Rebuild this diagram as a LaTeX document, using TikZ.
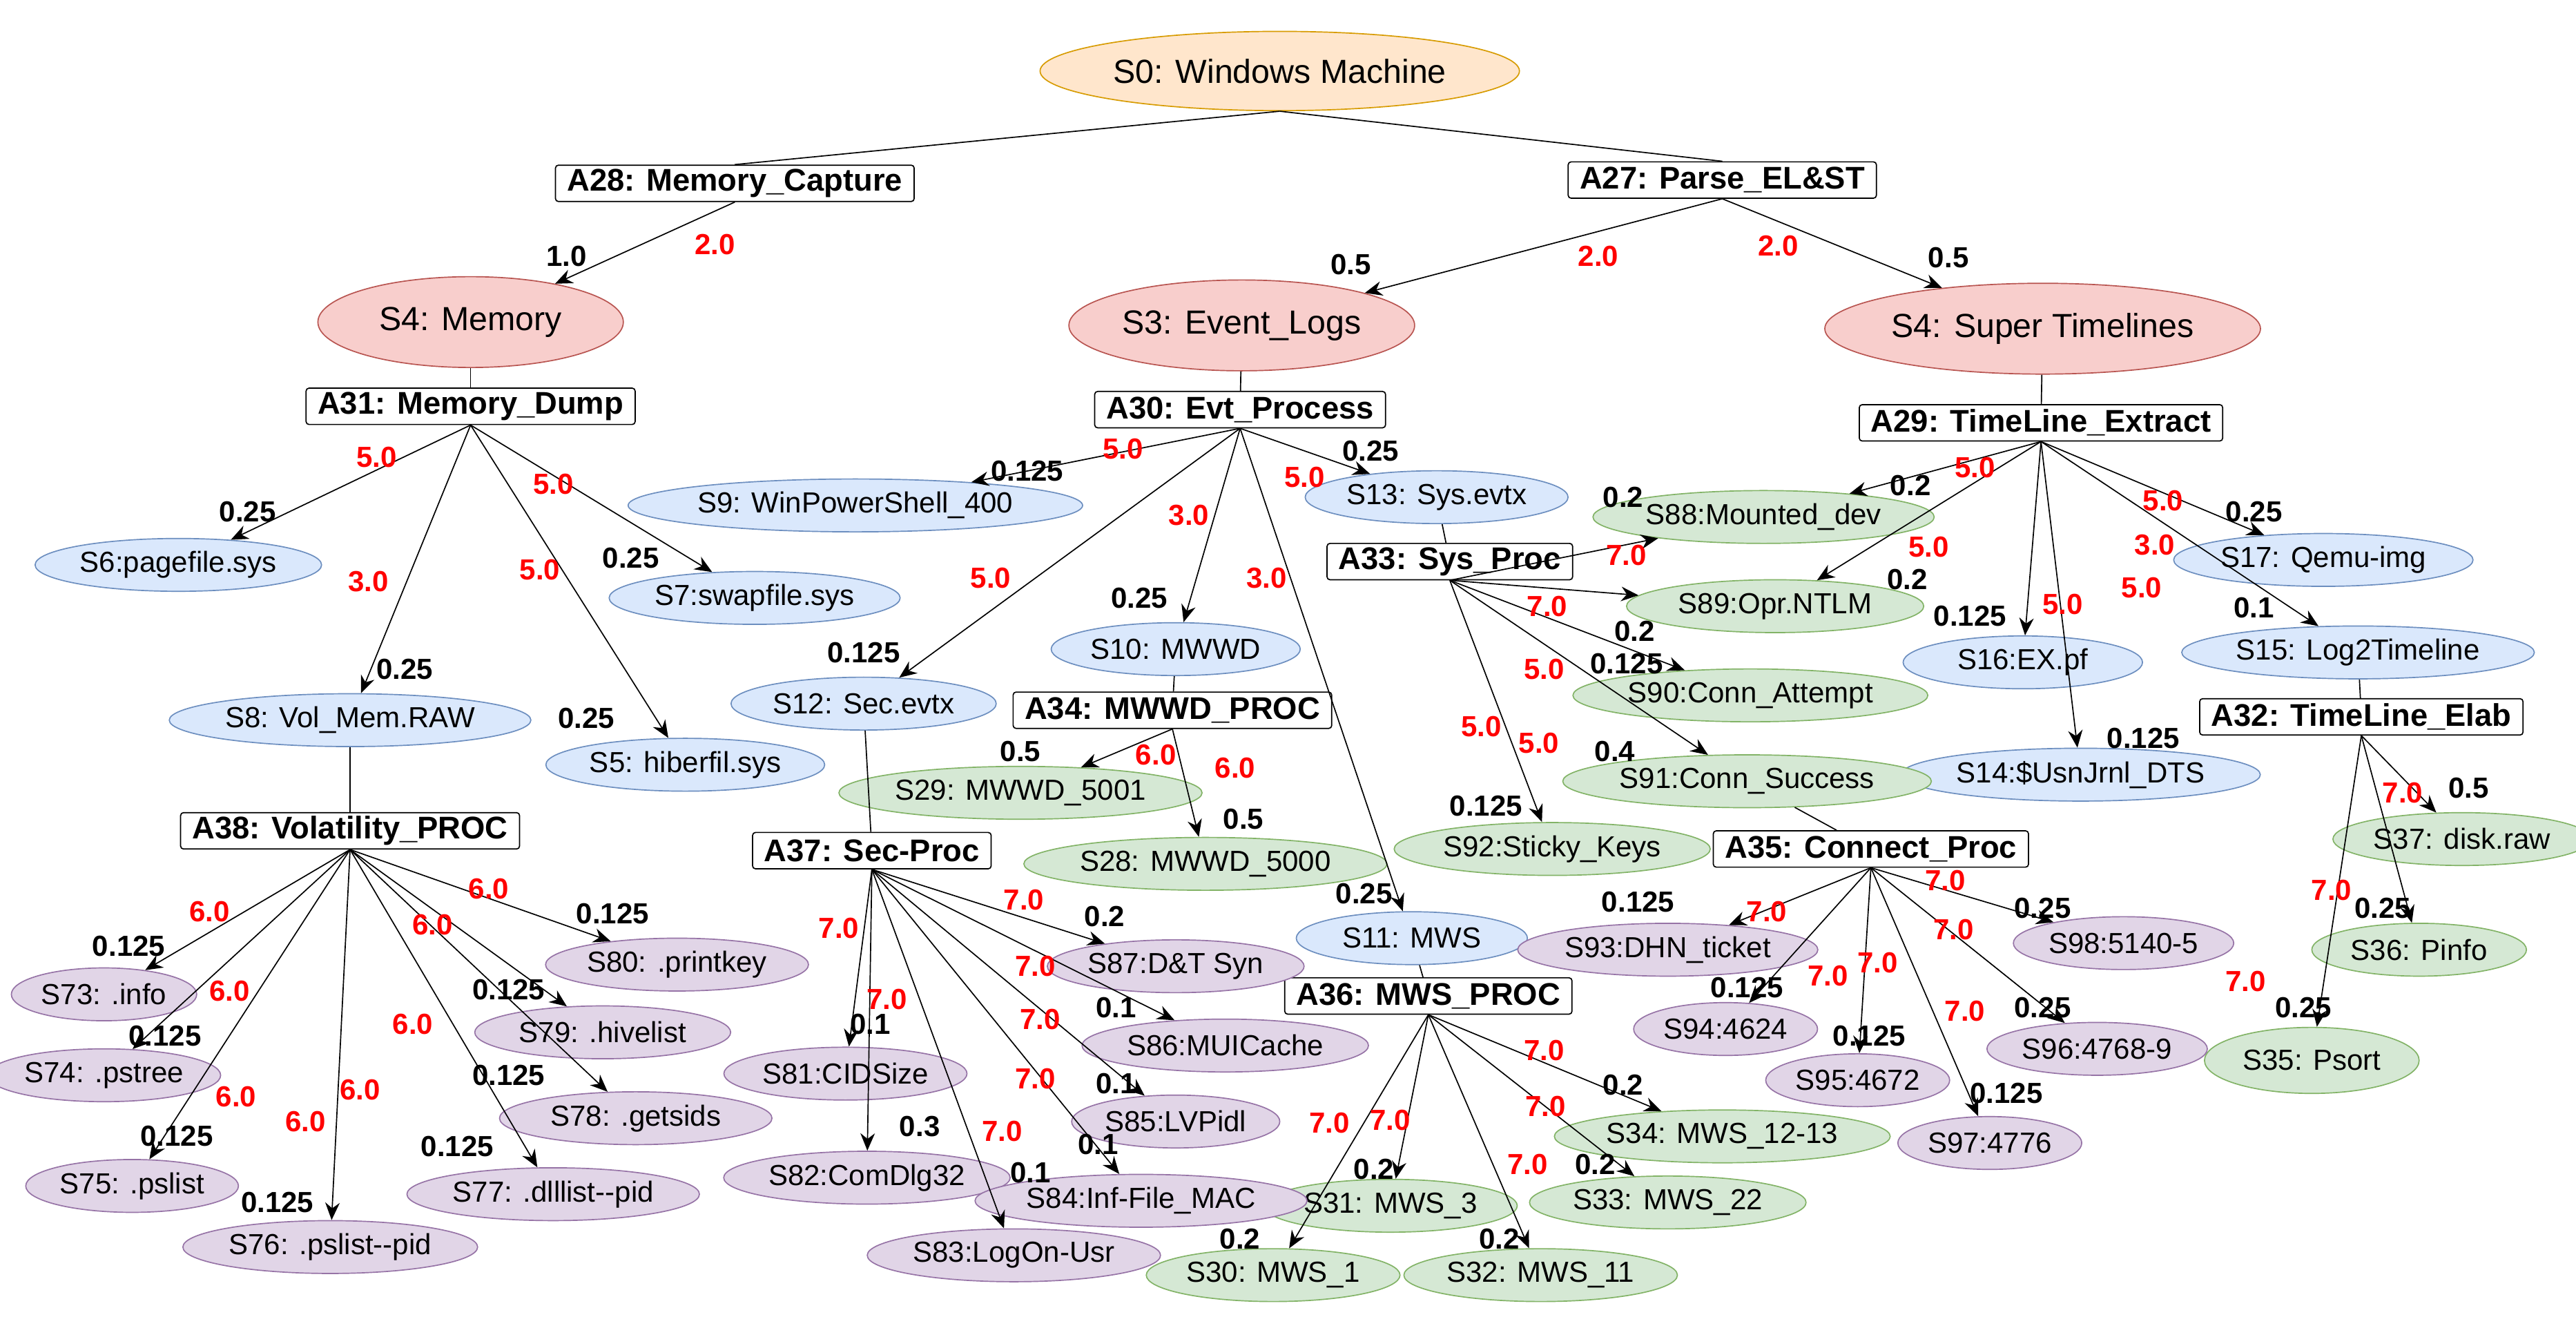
\documentclass[tikz,border=0pt]{standalone}
\usepackage{fontspec}
\setmainfont{Liberation Sans}
\usetikzlibrary{shapes.geometric,arrows.meta}
\definecolor{orfill}{HTML}{FFE6CC}\definecolor{ordraw}{HTML}{D79B00}
\definecolor{rdfill}{HTML}{F8CECC}\definecolor{rddraw}{HTML}{B85450}
\definecolor{blfill}{HTML}{DAE8FC}\definecolor{bldraw}{HTML}{6C8EBF}
\definecolor{grfill}{HTML}{D5E8D4}\definecolor{grdraw}{HTML}{82B366}
\definecolor{pufill}{HTML}{E1D5E7}\definecolor{pudraw}{HTML}{9673A6}
\begin{document}
\begin{tikzpicture}[x=0.02cm, y=-0.02cm, font=\fontsize{10}{12}\selectfont]
%% styles
\tikzstyle{st}=[ellipse, inner xsep=1pt, inner ysep=0pt, minimum height=0.64cm, thin]
\tikzstyle{root}=[st, fill=orfill, draw=ordraw, minimum width=5.3cm, minimum height=0.96cm, font=\fontsize{11.5}{14}\selectfont]
\tikzstyle{big}=[st, fill=rdfill, draw=rddraw, minimum height=1.1cm, font=\fontsize{11.5}{14}\selectfont]
\tikzstyle{blu}=[st, fill=blfill, draw=bldraw]
\tikzstyle{grn}=[st, fill=grfill, draw=grdraw]
\tikzstyle{pur}=[st, fill=pufill, draw=pudraw]
\tikzstyle{act}=[draw, fill=white, rounded corners=1pt, inner xsep=4pt, inner ysep=1pt, minimum height=0.44cm, font=\fontsize{10.8}{12}\selectfont\bfseries]
\tikzstyle{arc}=[-{Stealth[length=6pt,width=5pt]}]
\useasboundingbox (0,0) rectangle (1560,797.3);
%% states
\node[root] at (775,43) (S0) {S0: Windows Machine};
\node[big, minimum width=3.7cm] at (285,195) (S4m) {S4: Memory};
\node[big, minimum width=4.1cm] at (752,197) (S3) {S3: Event\_Logs};
\node[big, minimum width=4.5cm] at (1237,199) (S4s) {S4: Super Timelines};
%% actions
\node[act] at (445,111) (A28) {A28: Memory\_Capture};
\node[act] at (1043,109) (A27) {A27: Parse\_EL\&ST};
\node[act] at (285,246) (A31) {A31: Memory\_Dump};
\node[act] at (751,248) (A30) {A30: Evt\_Process};
\node[act] at (1236,256) (A29) {A29: TimeLine\_Extract};
\node[act] at (212,503) (A38) {A38: Volatility\_PROC};
\node[act] at (878,340) (A33) {A33: Sys\_Proc};
\node[act] at (710,430) (A34) {A34: MWWD\_PROC};
\node[act] at (528,515) (A37) {A37: Sec-Proc};
\node[act] at (865,603) (A36) {A36: MWS\_PROC};
\node[act] at (1133,514) (A35) {A35: Connect\_Proc};
\node[act] at (1430,434) (A32) {A32: TimeLine\_Elab};
%% blue
\node[blu, minimum width=3.4cm] at (108,342) (S6) {S6:pagefile.sys};
\node[blu, minimum width=3.2cm] at (457,362) (S7) {S7:swapfile.sys};
\node[blu, minimum width=4.1cm] at (212,436) (S8) {S8: Vol\_Mem.RAW};
\node[blu, minimum width=2.7cm] at (415,463) (S5) {S5: hiberfil.sys};
\node[blu, minimum width=4.4cm] at (518,306) (S9) {S9: WinPowerShell\_400};
\node[blu, minimum width=2.1cm] at (870,301) (S13) {S13: Sys.evtx};
\node[blu, minimum width=2.2cm] at (523,426) (S12) {S12: Sec.evtx};
\node[blu, minimum width=3.0cm] at (712,393) (S10) {S10: MWWD};
\node[blu, minimum width=2.8cm] at (855,568) (S11) {S11: MWS};
\node[blu, minimum width=2.9cm] at (1225,401) (S16) {S16:EX.pf};
\node[blu, minimum width=3.0cm] at (1407,339) (S17) {S17: Qemu-img};
\node[blu, minimum width=3.8cm] at (1428,395) (S15) {S15: Log2Timeline};
\node[blu, minimum width=3.4cm] at (1260,469) (S14) {S14:\$UsnJrnl\_DTS};
%% green
\node[grn, minimum width=3.5cm] at (1068,313) (S88) {S88:Mounted\_dev};
\node[grn, minimum width=3.6cm] at (1075,367) (S89) {S89:Opr.NTLM};
\node[grn, minimum width=3.6cm] at (1060,421) (S90) {S90:Conn\_Attempt};
\node[grn, minimum width=3.8cm] at (1058,473) (S91) {S91:Conn\_Success};
\node[grn, minimum width=3.5cm] at (940,514) (S92) {S92:Sticky\_Keys};
\node[grn, minimum width=3.3cm] at (618,480) (S29) {S29: MWWD\_5001};
\node[grn, minimum width=3.7cm] at (730,523) (S28) {S28: MWWD\_5000};
\node[grn, minimum width=2.4cm] at (771,772) (S30) {S30: MWS\_1};
\node[grn, minimum width=2.4cm] at (842,730) (S31) {S31: MWS\_3};
\node[grn, minimum width=3.0cm] at (933,772) (S32) {S32: MWS\_11};
\node[grn, minimum width=3.0cm] at (1010,728) (S33) {S33: MWS\_22};
\node[grn, minimum width=3.5cm] at (1043,688) (S34) {S34: MWS\_12-13};
\node[grn, minimum width=2.6cm] at (1491,508) (S37) {S37: disk.raw};
\node[grn, minimum width=2.6cm] at (1465,575) (S36) {S36: Pinfo};
\node[grn, minimum width=2.6cm, minimum height=0.8cm] at (1400,642) (S35) {S35: Psort};
%% purple
\node[pur, minimum width=1.9cm] at (63,602) (S73) {S73: .info};
\node[pur, minimum width=2.3cm] at (63,651) (S74) {S74: .pstree};
\node[pur, minimum width=2.4cm] at (80,718) (S75) {S75: .pslist};
\node[pur, minimum width=3.3cm] at (200,755) (S76) {S76: .pslist{-}{-}pid};
\node[pur, minimum width=3.3cm] at (335,723) (S77) {S77: .dlllist{-}{-}pid};
\node[pur, minimum width=3.3cm] at (385,677) (S78) {S78: .getsids};
\node[pur, minimum width=3.1cm] at (365,625) (S79) {S79: .hivelist};
\node[pur, minimum width=2.8cm] at (410,584) (S80) {S80: .printkey};
\node[pur, minimum width=2.6cm] at (512,650) (S81) {S81:CIDSize};
\node[pur, minimum width=2.8cm] at (525,713) (S82) {S82:ComDlg32};
\node[pur, minimum width=2.6cm] at (614,760) (S83) {S83:LogOn-Usr};
\node[pur, minimum width=3.0cm] at (691,727) (S84) {S84:Inf-File\_MAC};
\node[pur, minimum width=2.4cm] at (712,679) (S85) {S85:LVPidl};
\node[pur, minimum width=2.7cm] at (742,633) (S86) {S86:MUICache};
\node[pur, minimum width=2.6cm] at (712,585) (S87) {S87:D\&T Syn};
\node[pur, minimum width=2.8cm] at (1010,575) (S93) {S93:DHN\_ticket};
\node[pur, minimum width=1.8cm] at (1045,623) (S94) {S94:4624};
\node[pur, minimum width=1.8cm] at (1125,654) (S95) {S95:4672};
\node[pur, minimum width=2.2cm] at (1270,635) (S96) {S96:4768-9};
\node[pur, minimum width=1.8cm] at (1205,692) (S97) {S97:4776};
\node[pur, minimum width=2.3cm] at (1286,571) (S98) {S98:5140-5};
%% plain links
\draw (S0.south) -- (A28.north);
\draw (S0.south) -- (A27.north);
\foreach \a/\b in {S4m/A31, S3/A30, S4s/A29, S8/A38, S12/A37, S10/A34, S13/A33, S11/A36, S91/A35, S15/A32}
  \draw (\a) -- (\b);
%% arcs
\draw[arc] (A28.south) -- (S4m);
\draw[arc] (A27.south) -- (S3);
\draw[arc] (A27.south) -- (S4s);
\foreach \a/\list in {A31/{S6,S7,S8,S5}, A30/{S9,S13,S12,S10,S11}, A33/{S88,S89,S90,S91,S92},
  A29/{S88,S89,S16,S17,S15,S14}, A34/{S29,S28}, A38/{S73,S74,S75,S76,S77,S78,S79,S80},
  A37/{S81,S82,S83,S84,S85,S86,S87}, A36/{S30,S31,S32,S33,S34}, A35/{S93,S94,S95,S96,S97,S98},
  A32/{S37,S36,S35}}
  \foreach \b in \list \draw[arc] (\a.south) -- (\b);
%% weights
\foreach \x/\y/\t [count=\i] in {343/155/1.0, 818/160/0.5, 1180/156/0.5, 150/310/0.25, 245/405/0.25,
  355/435/0.25, 382/338/0.25, 622/285/0.125, 523/395/0.125, 690/362/0.25, 826/541/0.25, 830/273/0.25,
  983/301/0.2, 990/382/0.2, 985/402/0.125, 978/455/0.4, 900/488/0.125, 1157/294/0.2, 1155/351/0.2,
  1193/373/0.125, 1298/447/0.125, 1365/310/0.25, 1365/368/0.1, 1495/477/0.5, 1443/550/0.25,
  1395/610/0.25, 618/455/0.5, 753/496/0.5, 527/620/0.1, 557/682/0.3, 624/710/0.1, 665/693/0.1,
  676/656/0.1, 676/610/0.1, 669/555/0.2, 751/750/0.2, 832/708/0.2, 908/750/0.2, 966/705/0.2,
  983/657/0.2, 992/546/0.125, 1058/598/0.125, 1132/627/0.125, 1237/610/0.25, 1215/662/0.125,
  1237/550/0.25, 78/573/0.125, 100/627/0.125, 107/688/0.125, 168/728/0.125, 277/694/0.125,
  308/651/0.125, 308/599/0.125, 371/553/0.125}
  \node[font=\fontsize{10}{12}\selectfont\bfseries] (w\i) at (\x,\y) {\t};
%% costs
\foreach \x/\y/\t [count=\i] in {433/148/2.0, 968/155/2.0, 1077/149/2.0, 228/277/5.0, 223/352/3.0,
  327/345/5.0, 335/293/5.0, 680/272/5.0, 600/350/5.0, 720/312/3.0, 767/350/3.0, 790/289/5.0,
  985/336/7.0, 937/367/7.0, 935/405/5.0, 932/450/5.0, 897/440/5.0, 1196/283/5.0, 1168/331/5.0,
  1249/366/5.0, 1305/330/3.0, 1297/356/5.0, 1310/303/5.0, 1455/480/7.0, 1412/539/7.0, 1360/594/7.0,
  700/457/6.0, 748/465/6.0, 508/562/7.0, 537/605/7.0, 607/685/7.0, 627/653/7.0, 630/617/7.0,
  627/585/7.0, 620/545/7.0, 805/680/7.0, 842/678/7.0, 925/705/7.0, 936/670/7.0, 935/636/7.0,
  1070/552/7.0, 1107/591/7.0, 1137/583/7.0, 1190/612/7.0, 1183/563/7.0, 1178/533/7.0,
  127/552/6.0, 139/600/6.0, 143/664/6.0, 185/679/6.0, 218/660/6.0, 250/620/6.0, 262/560/6.0, 296/538/6.0}
  \node[text=red, font=\fontsize{10}{12}\selectfont\bfseries] (c\i) at (\x,\y) {\t};
\end{tikzpicture}
\end{document}
